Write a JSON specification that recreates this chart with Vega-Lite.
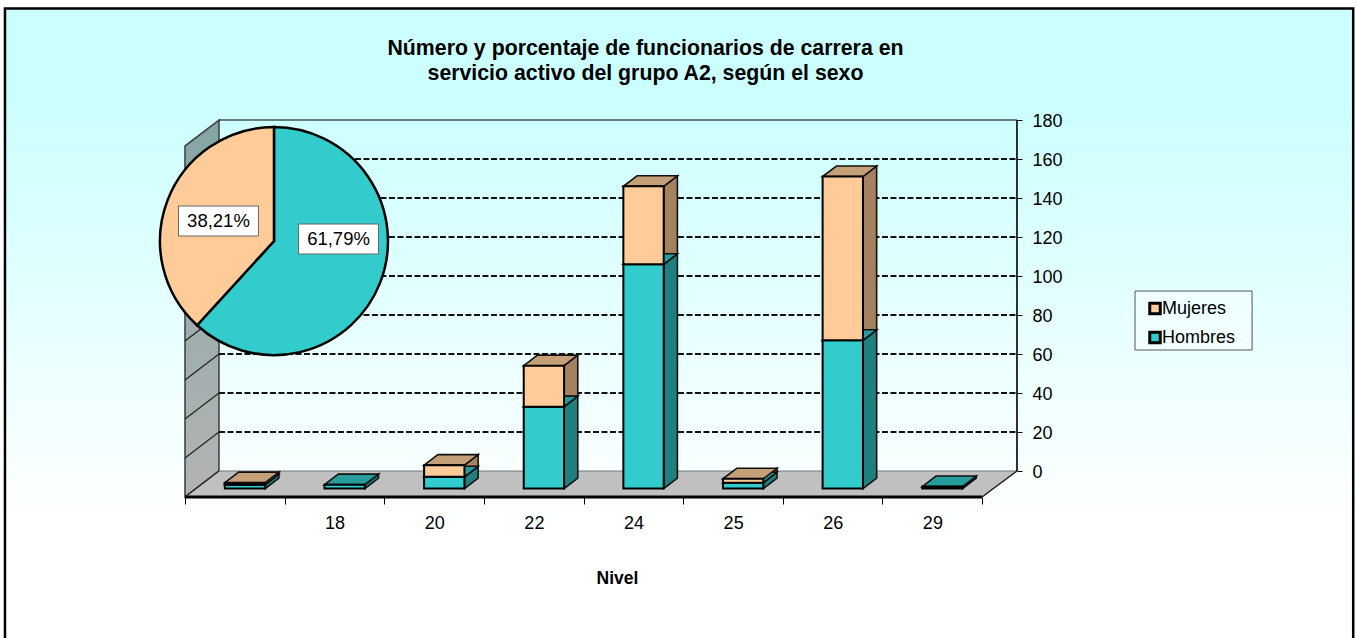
{
"$schema":"https://vega.github.io/schema/vega-lite/v6.json",
"width":1356,"height":638,"autosize":"none","padding":0,"background":"white",
"view":{"stroke":null},
"config":{"font":"Liberation Sans"},
"title":{"text":["Número y porcentaje de funcionarios de carrera en","servicio activo del grupo A2, según el sexo"],"anchor":"start","align":"center","frame":"group","offset":-101,"dx":645.5,"fontSize":21.3,"fontWeight":"bold","color":"#000","lineHeight":25,"baseline":"alphabetic"},
"datasets":{
"bars":[
{"nivel":"","sexo":"Hombres","n":2},{"nivel":"","sexo":"Mujeres","n":1},
{"nivel":"18","sexo":"Hombres","n":2},{"nivel":"18","sexo":"Mujeres","n":0},
{"nivel":"20","sexo":"Hombres","n":6},{"nivel":"20","sexo":"Mujeres","n":6},
{"nivel":"22","sexo":"Hombres","n":42},{"nivel":"22","sexo":"Mujeres","n":21},
{"nivel":"24","sexo":"Hombres","n":115},{"nivel":"24","sexo":"Mujeres","n":40},
{"nivel":"25","sexo":"Hombres","n":3},{"nivel":"25","sexo":"Mujeres","n":2},
{"nivel":"26","sexo":"Hombres","n":76},{"nivel":"26","sexo":"Mujeres","n":84},
{"nivel":"29","sexo":"Hombres","n":1},{"nivel":"29","sexo":"Mujeres","n":0}
],
"pie":[{"sexo":"Hombres","pct":61.79},{"sexo":"Mujeres","pct":38.21}],
"ticks":[{"t":20},{"t":40},{"t":60},{"t":80},{"t":100},{"t":120},{"t":140},{"t":160}],
"depth":[{"d":0},{"d":1}]
},
"encoding":{
"x":{"field":"x","type":"quantitative","scale":{"domain":[-1.857,11.754],"nice":false,"zero":false},
"axis":{"orient":"bottom","offset":-141,"values":[0,1,2,3,4,5,6,7,8],"domain":false,"grid":false,"tickColor":"#000","tickSize":7,"tickWidth":1,"labelExpr":"['','18','20','22','24','25','26','29',''][datum.value]","labelOffset":50,"labelPadding":10,"labelFontSize":18,"labelColor":"#000","labelBaseline":"top","labelFlush":false,"labelOverlap":false,"title":"Nivel","titleFontSize":17.5,"titleFontWeight":"bold","titleColor":"#000","titleX":617,"titleY":72,"titleAnchor":"middle","titleAlign":"center","zindex":1}},
"y":{"field":"y","type":"quantitative","scale":{"domain":[-85.64,241.54],"nice":false,"zero":false},
"axis":{"orient":"right","offset":-339,"values":[0,20,40,60,80,100,120,140,160,180],"domain":false,"grid":false,"tickColor":"#000","tickSize":5,"tickWidth":1,"labelPadding":10,"labelFontSize":18,"labelColor":"#000","labelBaseline":"middle","labelOverlap":false,"labelOffset":1,"title":null,"zindex":1}}
},
"layer":[
{"data":{"values":[{"panel":"fondo"}]},
 "transform":[{"calculate":"-1.807","as":"x"},{"calculate":"11.726","as":"x2"},{"calculate":"237.18","as":"y"},{"calculate":"-92","as":"y2"}],
 "mark":{"type":"rect","stroke":"#000","strokeWidth":2.5,"fill":{"gradient":"linear","x1":0,"y1":0,"x2":0,"y2":1,"stops":[{"offset":0,"color":"#CCFFFF"},{"offset":0.15,"color":"#CCFFFF"},{"offset":0.8,"color":"#FFFFFF"},{"offset":1,"color":"#FFFFFF"}]}},
 "encoding":{"x2":{"field":"x2"},"y2":{"field":"y2"}}},
{"data":{"values":[{"panel":"leyenda"}]},
 "transform":[{"calculate":"9.536","as":"x"},{"calculate":"10.711","as":"x2"},{"calculate":"92.3","as":"y"},{"calculate":"62.05","as":"y2"}],
 "mark":{"type":"rect","stroke":"#555","strokeWidth":1,"fill":"#FFFFFF","fillOpacity":0.4},
 "encoding":{"x2":{"field":"x2"},"y2":{"field":"y2"}}},
{"data":{"name":"depth"},
 "transform":[{"calculate":"datum.d*0.341","as":"x"},{"calculate":"180-(1-datum.d)*13.33","as":"y"},{"calculate":"-(1-datum.d)*13.33","as":"y2"}],
 "mark":{"type":"area","orient":"vertical","stroke":"#444","strokeWidth":1.6,"fill":{"gradient":"linear","x1":0,"y1":0,"x2":0,"y2":1,"stops":[{"offset":0,"color":"#85A5A5"},{"offset":1,"color":"#B4B4B4"}]}},
 "encoding":{"y2":{"field":"y2"}}},
{"data":{"name":"depth"},
 "transform":[{"calculate":"datum.d*0.341","as":"x"},{"calculate":"8+datum.d*0.351","as":"x2"},{"calculate":"-(1-datum.d)*13.33","as":"y"}],
 "mark":{"type":"area","orient":"horizontal","fill":"#C0C0C0","stroke":"#777","strokeWidth":1},
 "encoding":{"x2":{"field":"x2"}}},
{"data":{"name":"ticks"},
 "transform":[{"calculate":"0","as":"x"},{"calculate":"0.341","as":"x2"},{"calculate":"datum.t-13.33","as":"y"},{"calculate":"datum.t","as":"y2"}],
 "mark":{"type":"rule","stroke":"#222","strokeWidth":1.2},
 "encoding":{"x2":{"field":"x2"},"y2":{"field":"y2"}}},
{"data":{"name":"ticks"},
 "transform":[{"calculate":"0.341","as":"x"},{"calculate":"8.351","as":"x2"},{"calculate":"datum.t","as":"y"}],
 "mark":{"type":"rule","stroke":"#111","strokeWidth":2,"strokeDash":[6,2.5]},
 "encoding":{"x2":{"field":"x2"}}},
{"data":{"values":[{"linea":"techo"}]},
 "transform":[{"calculate":"0.341","as":"x"},{"calculate":"8.351","as":"x2"},{"calculate":"180","as":"y"}],
 "mark":{"type":"rule","stroke":"#000","strokeWidth":1.2},
 "encoding":{"x2":{"field":"x2"}}},
{"data":{"values":[{"linea":"derecha"}]},
 "transform":[{"calculate":"8.351","as":"x"},{"calculate":"180","as":"y"},{"calculate":"0","as":"y2"}],
 "mark":{"type":"rule","stroke":"#000","strokeWidth":1.6},
 "encoding":{"y2":{"field":"y2"}}},
{"data":{"values":[{"linea":"frente"}]},
 "transform":[{"calculate":"0","as":"x"},{"calculate":"8","as":"x2"},{"calculate":"-13.33","as":"y"}],
 "mark":{"type":"rule","stroke":"#000","strokeWidth":3},
 "encoding":{"x2":{"field":"x2"}}},
{"data":{"values":[{"linea":"lado"}]},
 "transform":[{"calculate":"8","as":"x"},{"calculate":"8.351","as":"x2"},{"calculate":"-13.33","as":"y"},{"calculate":"0","as":"y2"}],
 "mark":{"type":"rule","stroke":"#222","strokeWidth":1.5},
 "encoding":{"x2":{"field":"x2"},"y2":{"field":"y2"}}},
{"data":{"values":[{"linea":"fondoizq"}]},
 "transform":[{"calculate":"0","as":"x"},{"calculate":"0.341","as":"x2"},{"calculate":"-13.33","as":"y"},{"calculate":"0","as":"y2"}],
 "mark":{"type":"rule","stroke":"#222","strokeWidth":1.2},
 "encoding":{"x2":{"field":"x2"},"y2":{"field":"y2"}}},
{"data":{"name":"bars"},
 "transform":[
  {"filter":"datum.n>0"},
  {"calculate":"datum.sexo=='Hombres'?0:1","as":"ord"},
  {"calculate":"indexof(['','18','20','22','24','25','26','29'],datum.nivel)","as":"i"},
  {"stack":"n","groupby":["nivel"],"sort":[{"field":"ord","order":"ascending"}],"as":["y0","y1"]},
  {"calculate":"datum.nivel+'-'+datum.sexo","as":"key"}
 ],
 "layer":[
  {"transform":[{"calculate":"[0,1]","as":"d"},{"flatten":["d"]},{"calculate":"datum.i+0.805+datum.d*0.1375","as":"x"},{"calculate":"datum.y1-9+datum.d*5.4","as":"y"},{"calculate":"datum.y0-9+datum.d*5.4","as":"y2"}],
   "mark":{"type":"area","orient":"vertical","stroke":"#111","strokeWidth":1.6},
   "encoding":{"y2":{"field":"y2"},"detail":{"field":"key"},"fill":{"condition":{"test":"datum.sexo=='Mujeres'","value":"#A58160"},"value":"#208080"}}},
  {"transform":[{"calculate":"[0,1]","as":"d"},{"flatten":["d"]},{"calculate":"datum.i+0.4+datum.d*0.1375","as":"x"},{"calculate":"datum.i+0.805+datum.d*0.1375","as":"x2"},{"calculate":"datum.y1-9+datum.d*5.4","as":"y"}],
   "mark":{"type":"area","orient":"horizontal","stroke":"#111","strokeWidth":1.6},
   "encoding":{"x2":{"field":"x2"},"detail":{"field":"key"},"fill":{"condition":{"test":"datum.sexo=='Mujeres'","value":"#C49F78"},"value":"#269C9C"}}},
  {"transform":[{"calculate":"datum.i+0.4","as":"x"},{"calculate":"datum.i+0.805","as":"x2"},{"calculate":"datum.y1-9","as":"y"},{"calculate":"datum.y0-9","as":"y2"}],
   "mark":{"type":"rect","stroke":"#000","strokeWidth":2},
   "encoding":{"x2":{"field":"x2"},"y2":{"field":"y2"},
    "fill":{"field":"sexo","type":"nominal","scale":{"domain":["Mujeres","Hombres"],"range":["#FFCC99","#33CCCC"]},
     "legend":{"orient":"none","legendX":1135,"legendY":294.5,"title":null,"symbolType":"square","symbolSize":110,"symbolStrokeColor":"#000","symbolStrokeWidth":3,"symbolOffset":6,"labelFontSize":18,"labelColor":"#000","padding":5,"rowPadding":5,"labelOffset":-2}}}}
 ]},
{"data":{"name":"pie"},
 "transform":[{"calculate":"0.893","as":"x"},{"calculate":"117.9","as":"y"},{"calculate":"datum.sexo=='Hombres'?0:1","as":"ord"}],
 "mark":{"type":"arc","outerRadius":114,"innerRadius":0,"stroke":"#000","strokeWidth":2.5},
 "encoding":{"theta":{"field":"pct","type":"quantitative","stack":true},"order":{"field":"ord"},
  "fill":{"field":"sexo","type":"nominal","scale":{"domain":["Mujeres","Hombres"],"range":["#FFCC99","#33CCCC"]},"legend":null}}},
{"data":{"name":"pie"},
 "transform":[{"calculate":"datum.sexo=='Hombres'?1.541:0.336","as":"cx"},{"calculate":"datum.sexo=='Hombres'?118.97:128.2","as":"cy"},
  {"calculate":"datum.cx-0.4015","as":"x"},{"calculate":"datum.cx+0.4015","as":"x2"},{"calculate":"datum.cy+7.69","as":"y"},{"calculate":"datum.cy-7.69","as":"y2"}],
 "mark":{"type":"rect","fill":"#FFFFFF","stroke":"#666","strokeWidth":1},
 "encoding":{"x2":{"field":"x2"},"y2":{"field":"y2"}}},
{"data":{"name":"pie"},
 "transform":[{"calculate":"datum.sexo=='Hombres'?1.541:0.336","as":"x"},{"calculate":"datum.sexo=='Hombres'?118.97:128.2","as":"y"},{"calculate":"replace(format(datum.pct,'.2f'),'.',',')+'%'","as":"label"}],
 "mark":{"type":"text","fontSize":18.5,"color":"#000","align":"center","baseline":"middle"},
 "encoding":{"text":{"field":"label"}}}
]
}
